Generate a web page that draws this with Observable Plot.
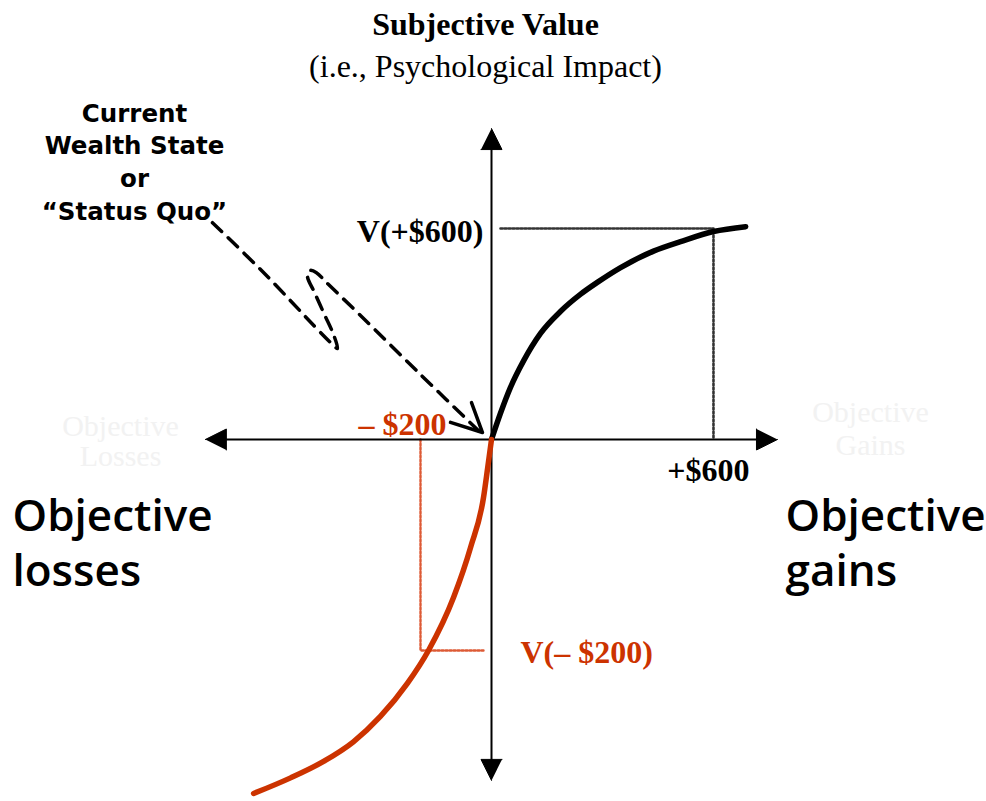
<!DOCTYPE html>
<html><head><meta charset="utf-8">
<script src="https://cdn.jsdelivr.net/npm/d3@7"></script>
<script src="https://cdn.jsdelivr.net/npm/@observablehq/plot@0.6"></script>
<style>html,body{margin:0;padding:0;background:#fff;} #chart{width:986px;height:801px;}</style>
</head><body><div id="chart"></div>
<script>
// ---- data (objective $ on x, subjective value on y; V(+$600) = 100) ----
const gainX = [0, 24, 51, 87, 132, 187, 241, 287, 349, 438, 511, 600, 687];
const gainV = [0, 12.3, 24.6, 37.4, 50.2, 60.8, 68.9, 74.6, 81.5, 89.3, 93.8, 98.6, 100.9];
const lossX = [0, -11, -22.5, -59, -107, -177.5, -237, -313, -389, -473, -566, -670];
const lossV = [0, -13.7, -27.5, -51.2, -74.9, -100, -115.6, -131.3, -143.3, -152.6, -160.4, -167.8];
const refX = [600, -200];          // +$600 and -$200
const refV = [100, -100];          // V(+$600), V(-$200)
const xAxisExtent = [-806, 773];   // arrow tips of the objective axis ($)
const yAxisExtent = [-161.6, 147.4]; // arrow tips of the value axis
// "status quo" loop pointer
const sqX = [-785.9, -636.6, -487.3, -453.5, -433.8, -445.1, -470.4, -498.6, -518.3, -512.7, -493.0, -464.8, -369.0, -200.0, -31.0];
const sqV = [102.8, 78.2, 51.7, 46.0, 43.1, 49.8, 59.2, 69.7, 77.3, 80.1, 79.1, 74.4, 58.8, 30.8, 3.3];
const sqHeadX = [-115.5, -25.4, -56.3];
const sqHeadV = [8.1, 3.3, 17.5];
// texts
const titleText = "Subjective Value";
const subtitleText = "(i.e., Psychological Impact)";
const statusQuoText = "Current\nWealth State\nor\n\u201cStatus Quo\u201d";
const gainLabel = "V(+$600)";
const gainTick = "+$600";
const lossTick = "\u2013 $200";
const lossLabel = "V(\u2013 $200)";
const leftLabel = "Objective\nlosses";
const rightLabel = "Objective\ngains";
const faintLeft = "Objective\nLosses";
const faintRight = "Objective\nGains";

// ---- scales ----
const xDomain = [-1383, 0, 1338], xRange = [0, 491, 986];
const yDomain = [-171.6, 208.1], yRange = [801, 0];
const X = d3.scaleLinear().domain(xDomain).range(xRange);
const Y = d3.scaleLinear().domain(yDomain).range(yRange);

const RED = "#cc3300";
const SERIF = "'Liberation Serif', 'Times New Roman', serif";
const SANSB = "'DejaVu Sans', Verdana, sans-serif";
const UI = "'Open Sans', 'Noto Sans', sans-serif";

const gains = gainX.map((x, i) => ({x, v: gainV[i]}));
const losses = lossX.map((x, i) => ({x, v: lossV[i]}));
const sq = sqX.map((x, i) => ({x, v: sqV[i]}));
const sqHead = sqHeadX.map((x, i) => ({x, v: sqHeadV[i]}));

// dotted reference guides
const x0px = X(0);
const gainRef = [{x: X.invert(x0px + 9), v: refV[0]}, {x: refX[0], v: refV[0]}, {x: refX[0], v: 0}];
const lossRef = [{x: refX[1], v: 0}, {x: refX[1], v: refV[1]}, {x: X.invert(x0px - 8), v: refV[1]}];

// arrowheads (filled triangles) at the axis tips
function tri(id, tx, ty, dx, dy) {
  const L = 21, W = 10.5;
  const px = X(tx), py = Y(ty);
  const bx = px - dx * L, by = py - dy * L;
  const nx = -dy, ny = dx;
  return [[px, py], [bx + nx * W, by + ny * W], [bx - nx * W, by - ny * W]]
    .map(([a, b]) => ({id, x: X.invert(a), v: Y.invert(b)}));
}
const heads = [
  ...tri("r", xAxisExtent[1], 0, 1, 0),
  ...tri("l", xAxisExtent[0], 0, -1, 0),
  ...tri("u", 0, yAxisExtent[1], 0, -1),
  ...tri("d", 0, yAxisExtent[0], 0, 1)
];
const xRule = [X.invert(X(xAxisExtent[0]) + 12), X.invert(X(xAxisExtent[1]) - 12)];
const yRule = [Y.invert(Y(yAxisExtent[0]) - 12), Y.invert(Y(yAxisExtent[1]) + 12)];

const T = d => d;
const chart = Plot.plot({
  width: 986, height: 801, margin: 0,
  x: {type: "linear", domain: xDomain, range: xRange, axis: null},
  y: {type: "linear", domain: yDomain, range: yRange, axis: null},
  style: {background: "#fff", overflow: "visible"},
  marks: [
    Plot.text([faintLeft], {text: T, frameAnchor: "top-left", dx: 120, dy: 414, textAnchor: "middle", lineAnchor: "top", lineHeight: 1.0, fontSize: 30, fontFamily: SERIF, fill: "#f2f2f2"}),
    Plot.text([faintRight], {text: T, frameAnchor: "top-left", dx: 870, dy: 398, textAnchor: "middle", lineAnchor: "top", lineHeight: 1.1, fontSize: 30, fontFamily: SERIF, fill: "#f2f2f2"}),

    Plot.line(gainRef, {x: "x", y: "v", stroke: "#333", strokeWidth: 2.6, strokeDasharray: "2,2"}),
    Plot.line(lossRef, {x: "x", y: "v", stroke: "#dd5a35", strokeWidth: 2.4, strokeDasharray: "2,2"}),

    Plot.ruleY([0], {x1: xRule[0], x2: xRule[1], stroke: "#000", strokeWidth: 2}),
    Plot.ruleX([0], {y1: yRule[0], y2: yRule[1], stroke: "#000", strokeWidth: 2}),
    Plot.line(heads, {x: "x", y: "v", z: "id", fill: "#000", stroke: "#000", strokeWidth: 1}),

    Plot.line(gains, {x: "x", y: "v", stroke: "#000", strokeWidth: 5.5, curve: "monotone-x"}),
    Plot.line(losses, {x: "x", y: "v", stroke: RED, strokeWidth: 5.5, curve: "monotone-x"}),

    Plot.line(sq, {x: "x", y: "v", stroke: "#000", strokeWidth: 3.5, strokeDasharray: "13,9", curve: "catmull-rom"}),
    Plot.line(sqHead, {x: "x", y: "v", stroke: "#000", strokeWidth: 3.5}),

    Plot.text([titleText], {text: T, frameAnchor: "top", dx: -8, dy: 24, lineAnchor: "middle", fontSize: 32, fontWeight: "bold", fontFamily: SERIF, fill: "#000"}),
    Plot.text([subtitleText], {text: T, frameAnchor: "top", dx: -8, dy: 66, lineAnchor: "middle", fontSize: 32, fontFamily: SERIF, fill: "#000"}),
    Plot.text([statusQuoText], {text: T, frameAnchor: "top-left", dx: 134, dy: 98, textAnchor: "middle", lineAnchor: "top", lineHeight: 1.333, fontSize: 24.5, fontWeight: "bold", fontFamily: SANSB, fill: "#000"}),

    Plot.text([gainLabel], {text: T, x: 0, y: refV[0], textAnchor: "end", dx: -8, dy: 3, fontSize: 32, fontWeight: "bold", fontFamily: SERIF, fill: "#000"}),
    Plot.text([gainTick], {text: T, x: refX[0], y: 0, textAnchor: "middle", dx: -5, dy: 31, fontSize: 32, fontWeight: "bold", fontFamily: SERIF, fill: "#000"}),
    Plot.text([lossTick], {text: T, x: 0, y: 0, textAnchor: "end", dx: -45, dy: -15, fontSize: 32, fontWeight: "bold", fontFamily: SERIF, fill: RED}),
    Plot.text([lossLabel], {text: T, x: 0, y: refV[1], textAnchor: "start", dx: 29, dy: 2, fontSize: 32, fontWeight: "bold", fontFamily: SERIF, fill: RED}),

    Plot.text([leftLabel], {text: T, frameAnchor: "top-left", dx: 12, dy: 491, textAnchor: "start", lineAnchor: "top", lineHeight: 1.25, fontSize: 44, fontWeight: 600, fontFamily: UI, fill: "#000"}),
    Plot.text([rightLabel], {text: T, frameAnchor: "top-left", dx: 785, dy: 491, textAnchor: "start", lineAnchor: "top", lineHeight: 1.25, fontSize: 44, fontWeight: 600, fontFamily: UI, fill: "#000"})
  ]
});
document.getElementById("chart").appendChild(chart);
</script></body></html>
